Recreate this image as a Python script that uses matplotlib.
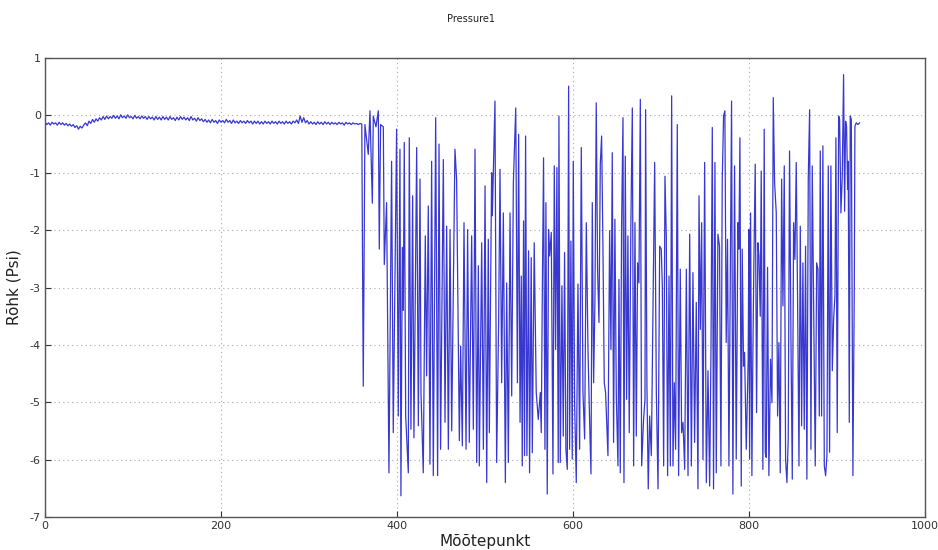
import numpy as np
import matplotlib
matplotlib.use("Agg")
import matplotlib.pyplot as plt

plt.rcParams["axes.unicode_minus"] = False

# ---- Data ----
# Stable part: measurement points 0..360 (every 2nd point)
stable_x = list(range(0, 361, 2))
stable_y = [
    -0.12, -0.16, -0.13, -0.17, -0.12, -0.15, -0.13, -0.17, -0.12, -0.16, -0.13, -0.17, -0.14, -0.18, -0.15,
    -0.19, -0.16, -0.21, -0.18, -0.24, -0.19, -0.22, -0.17,
    -0.13, -0.18, -0.10, -0.14, -0.07, -0.12, -0.06, -0.10,
    -0.04, -0.08, -0.02, -0.07, -0.01, -0.06, -0.02, -0.05, 0.00, -0.05, -0.01, -0.06, 0.01, -0.04, -0.01,
    -0.05, 0.01, -0.04, -0.02, -0.06, 0.00, -0.05, -0.02, -0.06, -0.01, -0.05, -0.02, -0.07, -0.02, -0.06,
    -0.03, -0.08, -0.02, -0.07, -0.03, -0.08, -0.02, -0.07, -0.03, -0.08, -0.02, -0.07, -0.04, -0.09, -0.03,
    -0.08, -0.02, -0.07, -0.03, -0.08, -0.04, -0.09, -0.02, -0.08, -0.05, -0.10, -0.04, -0.09, -0.06, -0.11,
    -0.07, -0.12, -0.08, -0.13, -0.07, -0.12, -0.09, -0.14, -0.08, -0.12, -0.09, -0.13, -0.07, -0.12, -0.09,
    -0.14, -0.08, -0.13, -0.10, -0.14, -0.09, -0.13, -0.10, -0.14, -0.09, -0.13, -0.10, -0.15, -0.10, -0.14,
    -0.10, -0.15, -0.11, -0.15, -0.10, -0.14, -0.11, -0.15, -0.10, -0.14, -0.11, -0.15, -0.10, -0.14, -0.11,
    -0.15, -0.10, -0.14, -0.11, -0.15, -0.10, -0.13, -0.08, -0.14, -0.01, -0.12, -0.04, -0.13, -0.09, -0.15,
    -0.11, -0.15, -0.12, -0.16, -0.11, -0.15, -0.12, -0.16, -0.11, -0.15, -0.12, -0.16, -0.12, -0.15, -0.13,
    -0.16, -0.12, -0.15, -0.13, -0.17, -0.12, -0.15, -0.13, -0.16, -0.13, -0.15, -0.14, -0.16, -0.14, -0.15,
]

# Unstable part: turning points of the trace (x position, pressure)
chaos_x = [
    361.7, 363.6, 367.4, 369.3, 372.0, 373.1, 376.1, 378.8, 379.9, 381.4, 384.5, 385.6, 388.2, 390.9,
    393.9, 395.8, 399.6, 401.5, 403.4, 404.5, 406.1, 407.2, 408.3, 409.9, 412.9, 414.0, 415.9, 417.8,
    419.3, 422.4, 424.3, 426.2, 427.3, 429.9, 432.2, 433.7, 435.6, 437.5, 439.4, 441.3, 444.0, 446.2,
    447.8, 449.6, 452.7, 454.6, 456.5, 458.4, 460.3, 462.2, 465.9, 467.8, 470.9, 472.4, 474.3, 476.2,
    478.5, 480.3, 482.2, 484.9, 486.8, 488.7, 490.6, 492.5, 493.6, 496.3, 498.2, 500.1, 502.0, 503.8,
    505.0, 507.6, 508.4, 511.4, 513.3, 515.6, 517.1, 519.0, 520.9, 523.2, 524.7, 526.6, 528.5, 530.4,
    532.3, 535.0, 536.9, 538.3, 539.9,
    541.3, 542.4, 543.9, 545.0, 546.2, 547.7, 549.6, 550.7, 552.6, 553.8, 556.0, 558.3, 560.6, 562.9,
    564.0, 565.1, 566.6, 568.2, 569.3, 570.8, 572.3, 573.5, 575.4, 577.3, 578.8, 580.3, 581.8, 583.3,
    584.1, 585.6, 587.5, 589.0, 590.5, 592.0, 593.6, 595.1, 596.2, 597.7, 599.2, 600.4, 601.9, 603.8,
    605.7, 607.6, 609.5, 611.4, 613.3, 615.2, 617.1, 619.0, 620.5, 622.0, 623.5, 625.0, 626.5, 628.0,
    629.6, 631.1, 632.6, 634.1, 635.6, 637.1, 639.8, 641.7, 643.2, 644.7, 646.2, 647.7, 649.3, 651.2,
    652.3, 653.8, 655.3, 656.9, 658.0, 659.5, 661.0, 662.5, 664.0, 665.9, 667.5, 669.0, 670.5, 672.0,
    673.5, 675.0, 676.6, 678.1, 680.3, 681.9, 682.6, 684.1, 685.6, 687.2, 689.1, 691.0, 692.9, 694.8,
    696.7, 698.6, 700.4, 701.6, 703.1, 704.6, 706.1, 707.6, 709.2, 710.7, 712.2, 713.7, 715.2, 716.7,
    718.6, 720.1, 722.0, 723.5, 725.1, 727.0, 728.9, 730.8, 732.7, 734.6, 736.4, 738.3, 740.2, 742.1,
    743.3, 744.8, 746.3, 747.8, 749.7, 751.6, 753.5, 755.4, 756.9, 758.4,
    759.8, 761.4, 762.9, 764.8, 766.6, 768.2, 769.7, 771.2, 772.7, 774.2, 775.7, 777.3, 778.8, 780.3,
    781.8, 783.7, 785.6, 787.5, 788.6, 789.8, 791.3, 792.4, 793.9, 795.1, 797.0, 799.2, 800.0, 800.8,
    801.9, 803.4, 804.5, 805.7, 807.2, 808.7, 810.2, 811.4, 812.9, 814.0, 815.9, 817.4, 818.6, 819.7,
    821.2, 822.7, 824.6, 826.2, 827.7, 829.2, 831.1, 832.6, 834.1, 835.6, 837.2, 838.7, 840.2, 841.7,
    843.2, 844.7, 846.2, 847.8, 849.3, 850.8, 852.3, 853.8, 855.3, 856.9, 858.4, 859.9, 861.4, 862.9,
    864.4, 865.9, 867.5, 869.0, 870.5, 872.0, 873.9, 875.4, 877.0, 878.5, 880.0, 881.1, 882.6, 884.1,
    885.7, 887.2, 888.7, 890.2, 891.7, 893.2, 894.8, 896.3, 897.8, 898.9, 900.4, 902.0, 903.1, 904.6,
    906.1, 907.6, 908.8, 909.9, 911.0, 912.2, 912.9, 914.1, 915.2, 916.4, 918.2, 919.8, 920.5, 922.0,
    923.9, 925.8,
]
chaos_y = [
    -4.72, -0.16, -0.68, 0.08, -1.53, -0.01, -0.20, 0.08, -2.33, -0.16, -0.20, -2.60, -1.52, -6.23,
    -0.80, -5.53, -0.24, -5.24, -0.59, -6.63, -2.30, -3.40, -0.47, -5.24, -6.23, -0.39, -5.47, -1.40,
    -5.62, -0.56, -5.41, -1.11, -4.83, -6.23, -2.10, -4.54, -1.58, -6.08, -0.80, -6.28, -0.04, -6.28,
    -0.50, -5.82, -0.77, -5.35, -1.93, -5.82, -1.99, -5.50, -0.59, -1.11, -5.67, -4.02, -5.76, -1.87,
    -5.82, -1.99, -5.70, -2.10, -5.47, -0.59, -6.05, -2.62, -6.11, -2.22, -5.82, -1.23, -6.40, -2.16,
    -5.53, -1.00, -1.75, 0.25, -6.05, -3.55, -0.94, -4.66, -1.70, -6.40, -2.92, -6.05, -1.70, -4.89,
    -1.17, 0.13, -4.66, -0.33, -5.35,
    -2.80, -6.11, -1.84, -5.93, -0.36, -5.93, -2.36, -6.23, -2.48, -5.88, -2.22, -4.83, -5.30, -4.83,
    -5.53, -3.29, -0.74, -5.82, -1.52, -6.60, -1.99, -2.45, -2.04, -6.25, -0.88, -4.08, -0.91, -6.05,
    -0.01, -6.05, -2.97, -5.59, -2.39, -5.82, -6.17, 0.51, -5.82, -2.19, -5.99, -0.80, -5.00, -6.40,
    -2.94, -5.82, -0.56, -4.83, -5.64, -1.87, -4.08, -5.35, -6.25, -1.52, -4.66, -3.26, 0.22, -2.68,
    -3.61, -0.85, -0.36, -2.28, -4.66, -4.83, -5.93, -2.01, -4.08, -0.65, -5.70, -1.81, -4.89, -6.11,
    -2.86, -6.23, -1.93, -0.04, -6.40, -0.71, -4.95, -2.10, -5.53, -1.84, 0.13, -6.11, -1.87, -5.59,
    -2.57, -2.92, 0.28, -6.11, -5.30, -4.95, 0.10, -4.72, -6.51, -5.24, -5.93, -3.32, -0.82, -4.83,
    -6.51, -2.28, -2.33, -2.97, -6.11, -1.06, -2.10, -6.28, -2.80, -6.11, 0.34, -6.11, -4.66, -5.82,
    -0.16, -6.28, -2.68, -5.53, -5.35, -6.17, -2.68, -6.28, -2.07, -6.11, -2.74, -5.70, -3.26, -6.51,
    -1.40, -3.73, -1.87, -6.00, -0.82, -6.40, -4.45, -6.46, -4.08, -0.21,
    -6.51, -0.82, -6.23, -2.07, -2.28, -6.11, -1.14, -0.01, 0.08, -3.96, -2.16, -6.11, -2.91, 0.25,
    -6.60, -0.88, -5.99, -1.87, -2.33, -0.39, -6.46, -2.33, -4.37, -4.13, -5.82, -4.25, -1.99, -5.99,
    -1.70, -6.28, -4.16, -2.51, -0.85, -5.18, -2.22, -2.45, -3.50, -0.97, -6.17, -0.24, -5.88, -5.96,
    -2.65, -6.28, -4.25, -5.01, 0.31, -1.17, -1.70, -5.24, -3.96, -6.23, -1.11, -3.32, -0.88, -6.00,
    -6.40, -5.64, -0.62, -3.90, -6.34, -1.87, -2.51, -0.82, -3.15, -6.11, -1.93, -5.41, -2.57, -5.47,
    -2.28, -6.34, -1.09, 0.10, -5.82, -0.88, -3.90, -6.11, -2.57, -2.68, -5.24, -0.62, -5.24, -0.53,
    -6.11, -6.28, -5.93, -0.88, -5.87, -0.88, -4.45, -3.55, -3.15, -0.39, -5.53, -0.01, -0.07, -1.70,
    -1.06, 0.71, -1.67, -0.10, -0.19, -1.29, -0.80, -5.35, -0.01, -0.07, -6.28, -2.97, -0.19, -0.13,
    -0.16, -0.13,
]

x_ticks = [0, 200, 400, 600, 800, 1000]
y_ticks = [-7, -6, -5, -4, -3, -2, -1, 0, 1]

x_all = np.array(stable_x + chaos_x, dtype=float)
y_all = np.array(stable_y + chaos_y, dtype=float)

fig = plt.figure(figsize=(9.38, 5.5), dpi=100)
ax = fig.add_axes([0.048, 0.06, 0.938, 0.8345])
ax.plot(x_all, y_all, color="#2222cc", linewidth=0.9, alpha=0.9)

ax.set_xlim(0, 1000)
ax.set_ylim(-7, 1)
ax.set_xticks(x_ticks)
ax.set_yticks(y_ticks)
ax.tick_params(direction="in", labelsize=8, length=4, pad=3, colors="#333333")
ax.grid(True, linestyle=(0, (1, 3)), color="#aaaaaa", linewidth=0.8)
for s in ax.spines.values():
    s.set_color("#555555")
    s.set_linewidth(1.0)

ax.set_xlabel("Mõõtepunkt", fontsize=11, color="#222222", labelpad=2)
ax.set_ylabel("Rõhk (Psi)", fontsize=11, color="#222222", labelpad=6)
fig.suptitle("Pressure1", fontsize=7, y=0.975, x=0.502, color="#222222")

fig.savefig("out.png", dpi=100)
